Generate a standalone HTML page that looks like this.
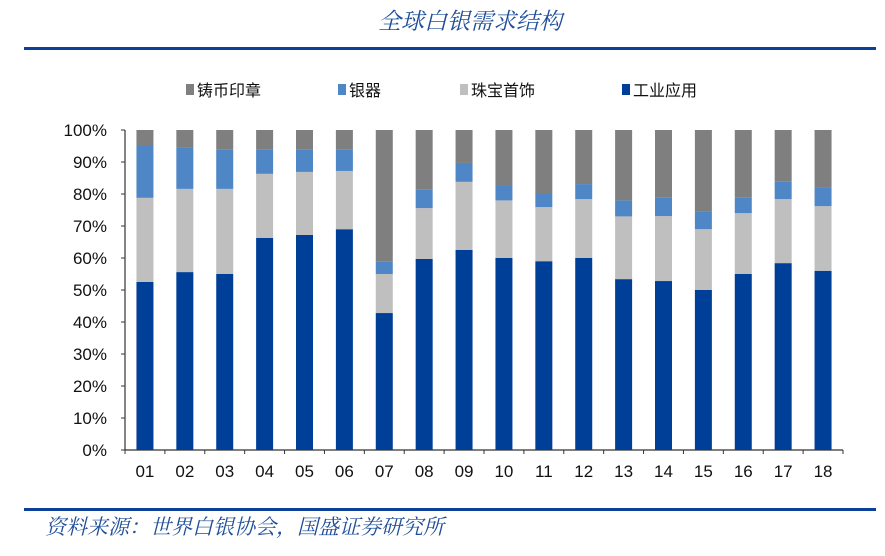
<!DOCTYPE html>
<html><head><meta charset="utf-8"><style>
body{margin:0;background:#fff;width:885px;height:551px;overflow:hidden;font-family:"Liberation Sans","Noto Sans CJK SC",sans-serif}
</style></head><body>
<svg width="885" height="551">
<text x="470" y="29" text-anchor="middle" font-size="23" font-style="italic" fill="#1f4e99" font-family="Liberation Serif,Noto Serif CJK SC,serif">全球白银需求结构</text>
<rect x="24" y="47" width="852" height="3" fill="#0b3f9a"/>
<g id="legend"></g>
<g id="axes"></g>
<g id="bars"></g>
<rect x="24" y="508" width="852" height="3" fill="#0b3f9a"/>
<text x="45" y="534" font-size="21" font-style="italic" fill="#1f4e99" font-family="Liberation Serif,Noto Serif CJK SC,serif">资料来源：世界白银协会，国盛证券研究所</text>
</svg>
<script>
const categories=["01","02","03","04","05","06","07","08","09","10","11","12","13","14","15","16","17","18"];
const industrial=[52.5,55.6,55,66.3,67.2,69,42.8,59.7,62.5,60,59,60,53.4,52.8,50,55,58.4,56];
const jewelry=[26.3,26,26.6,20,19.7,18.2,12.2,15.9,21.3,18,16.9,18.4,19.6,20.3,19,19,20,20.2];
const silverware=[16.2,12.8,12.2,7.5,6.9,6.6,4,5.7,5.9,4.8,4.1,4.7,5,5.7,5.4,5,5.6,5.8];
const coins=categories.map((c,i)=>100-industrial[i]-jewelry[i]-silverware[i]);
const yTicks=[0,10,20,30,40,50,60,70,80,90,100];
const seriesNames=["铸币印章","银器","珠宝首饰","工业应用"];
const NS="http://www.w3.org/2000/svg";
const x0=125,x1=843,y0=450,y1=130;
const bw=(x1-x0)/categories.length;
const y=v=>y0-(v/100)*(y0-y1);
const xc=i=>x0+bw*(i+0.5);
function mk(tag,at,parent){const e=document.createElementNS(NS,tag);for(const k in at)e.setAttribute(k,at[k]);parent.appendChild(e);return e;}
const axes=document.getElementById('axes'),bars=document.getElementById('bars'),legend=document.getElementById('legend');
let l=mk('line',{x1:x0,y1:y0,x2:x1,y2:y0,stroke:'#333','stroke-width':1.2},axes);


l=mk('line',{x1:x0,y1:y1,x2:x0,y2:y0,stroke:'#333','stroke-width':1.2},axes);


yTicks.forEach(v=>{
 const t=mk('line',{x1:x0-4,y1:y(v),x2:x0,y2:y(v),stroke:'#333'},axes);
 
 
 const tx=mk('text',{x:107,y:y(v)+6,'text-anchor':'end','font-size':17,fill:'#111'},axes);
 tx.textContent=v+'%';
 
 
});
for(let i=0;i<=categories.length;i++){
 const t=mk('line',{x1:x0+bw*i,y1:y0,x2:x0+bw*i,y2:y0+4,stroke:'#333'},axes);
 
 
}
const colors=['#7f7f7f','#4f86c6','#bfbfbf','#003f98'];
categories.forEach((c,i)=>{
 const segs=[[industrial[i],colors[3],'industrial'],[jewelry[i],colors[2],'jewelry'],[silverware[i],colors[1],'silverware'],[coins[i],colors[0],'coins']];
 let base=0;
 segs.forEach(s=>{
  const r=mk('rect',{x:xc(i)-8.5,y:y(base+s[0]),width:17,height:y(base)-y(base+s[0]),fill:s[1]},bars);
  
  
  base+=s[0];
 });
 const t=mk('text',{x:xc(i),y:477,'text-anchor':'middle','font-size':17,fill:'#111'},axes);
 t.textContent=c;
 
 
});
const lx=[186,338,460,622];
seriesNames.forEach((n,i)=>{
 const r=mk('rect',{x:lx[i],y:84,width:8,height:11,fill:colors[i]},legend);
 
 
 const t=mk('text',{x:lx[i]+11,y:96,'font-size':16,fill:'#111'},legend);
 t.textContent=n;
 
 
});
</script>
</body></html>
